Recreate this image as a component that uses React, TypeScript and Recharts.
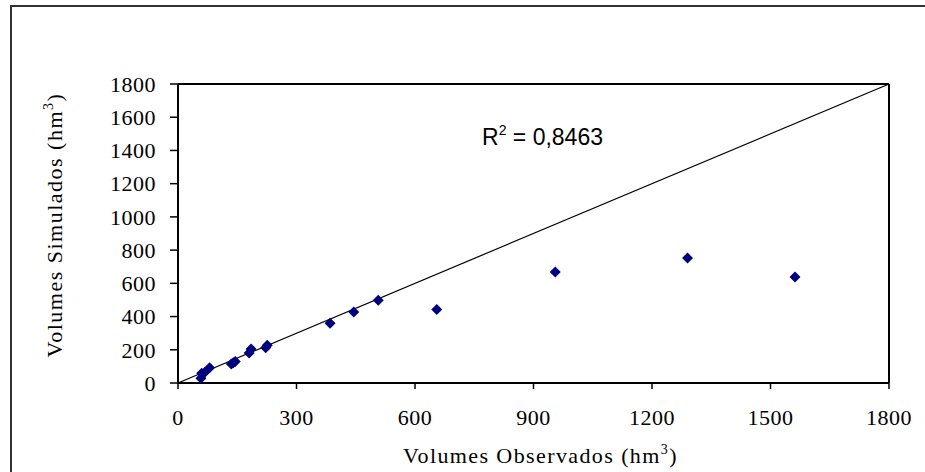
import { ScatterChart, Scatter, XAxis, YAxis, ReferenceLine, Label } from "recharts";

const observed = [58, 60, 68, 80, 135, 140, 145, 180, 185, 222, 226, 385, 445, 507, 655, 955, 1290, 1562];
const simulated = [28, 58, 65, 92, 115, 122, 130, 180, 205, 212, 228, 360, 428, 498, 443, 668, 752, 638];
const xTicks = [0, 300, 600, 900, 1200, 1500, 1800];
const yTicks = [0, 200, 400, 600, 800, 1000, 1200, 1400, 1600, 1800];

const points = observed.map((x, i) => ({ x, y: simulated[i] }));

const serif = "'Liberation Serif', 'DejaVu Serif', serif";

function Diamond(props: any) {
  const { cx, cy } = props;
  const r = 5.5;
  return (
    <polygon
      points={`${cx},${cy - r} ${cx + r},${cy} ${cx},${cy + r} ${cx - r},${cy}`}
      fill="#00007f"
    />
  );
}

function XTitle(props: any) {
  const { viewBox } = props;
  const cx = viewBox.x + viewBox.width / 2 + 7;
  return (
    <text
      x={cx}
      y={463}
      textAnchor="middle"
      fontFamily={serif}
      fontSize={22}
      letterSpacing={1.4}
      fill="#000"
    >
      Volumes Observados (hm
      <tspan dy={-9} fontSize={14}>3</tspan>
      <tspan dy={9}>)</tspan>
    </text>
  );
}

function YTitle() {
  return (
    <text
      x={0}
      y={0}
      transform="translate(62,225) rotate(-90)"
      textAnchor="middle"
      fontFamily={serif}
      fontSize={22}
      letterSpacing={1.5}
      fill="#000"
    >
      Volumes Simulados (hm
      <tspan dy={-9} fontSize={14}>3</tspan>
      <tspan dy={9}>)</tspan>
    </text>
  );
}

function R2Label() {
  return (
    <text
      x={482}
      y={145}
      fontFamily="'Liberation Sans', Arial, sans-serif"
      fontSize={23}
      fill="#000"
    >
      R<tspan dy={-10} fontSize={14}>2</tspan>
      <tspan dy={10}> = 0,8463</tspan>
    </text>
  );
}

export default function App() {
  return (
    <div
      style={{
        position: "absolute",
        left: 0,
        top: 0,
        width: 925,
        height: 472,
        overflow: "hidden",
        background: "#fff",
      }}
    >
      <div
        style={{
          position: "absolute",
          left: 10,
          top: 5,
          width: 1000,
          height: 1000,
          borderLeft: "2px solid #333",
          borderTop: "2px solid #333",
        }}
      />
      <div style={{ position: "absolute", left: 0, top: 0 }}>
        <ScatterChart
          width={925}
          height={472}
          margin={{ top: 84, right: 36, left: 0, bottom: 0 }}
        >
          <XAxis
            type="number"
            dataKey="x"
            domain={[0, 1800]}
            ticks={xTicks}
            interval={0}
            height={89}
            tickSize={6}
            tickMargin={20}
            axisLine={{ stroke: "#000", strokeWidth: 2 }}
            tickLine={{ stroke: "#000", strokeWidth: 1.5 }}
            tick={{ fontFamily: serif, fontSize: 22, fill: "#000", letterSpacing: 0.5 }}
          >
            <Label content={<XTitle />} />
          </XAxis>
          <YAxis
            type="number"
            dataKey="y"
            domain={[0, 1800]}
            ticks={yTicks}
            interval={0}
            width={178}
            tickSize={8}
            tickMargin={14}
            axisLine={{ stroke: "#000", strokeWidth: 2 }}
            tickLine={{ stroke: "#000", strokeWidth: 1.5 }}
            tick={{ fontFamily: serif, fontSize: 22, fill: "#000", letterSpacing: 0.5 }}
          >
            <Label content={<YTitle />} />
          </YAxis>
          <ReferenceLine y={1800} stroke="#000" strokeWidth={2} />
          <ReferenceLine x={1800} stroke="#000" strokeWidth={2} />
          <ReferenceLine
            segment={[
              { x: 0, y: 0 },
              { x: 1800, y: 1800 },
            ]}
            stroke="#000"
            strokeWidth={1.2}
          />
          <ReferenceLine y={1500} stroke="none" label={<R2Label />} />
          <Scatter data={points} shape={<Diamond />} isAnimationActive={false} />
        </ScatterChart>
      </div>
    </div>
  );
}
